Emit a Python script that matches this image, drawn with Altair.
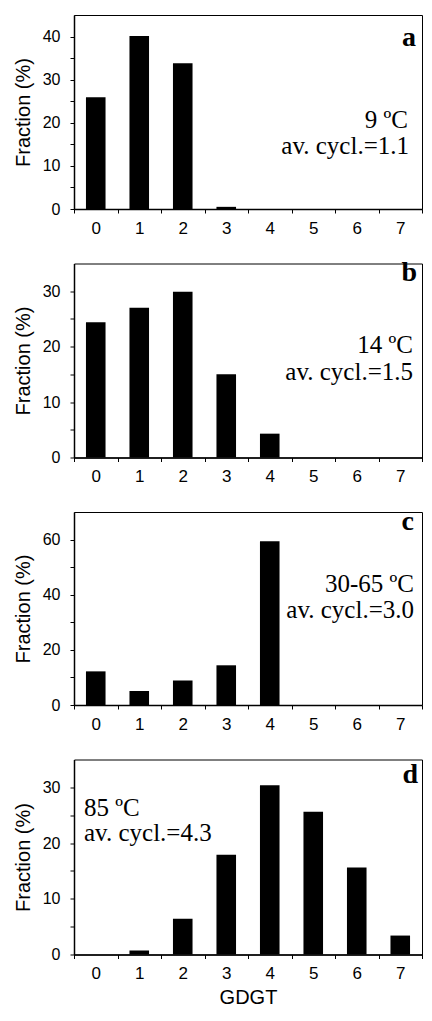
import altair as alt
import pandas as pd

# ---- data ----
gdgt = [0, 1, 2, 3, 4, 5, 6, 7]
frac_a = [25.9, 40.1, 33.8, 0.5, 0, 0, 0, 0]
frac_b = [24.4, 27.0, 29.9, 15.0, 4.3, 0, 0, 0]
frac_c = [12.2, 5.1, 8.9, 14.4, 59.4, 0, 0, 0]
frac_d = [0, 0.7, 6.4, 17.9, 30.4, 25.6, 15.6, 3.4]
series = [frac_a, frac_b, frac_c, frac_d]

panel_letters = ["a", "b", "c", "d"]
temp_labels = ["9 ºC", "14 ºC", "30-65 ºC", "85 ºC"]
cycl_labels = ["av. cycl.=1.1", "av. cycl.=1.5", "av. cycl.=3.0", "av. cycl.=4.3"]
y_max = [45, 35, 70, 35]
y_minor = [5, 5, 10, 5]
y_major = [10, 10, 20, 10]

# ---- layout (pixels, relative to each plot area) ----
PLOT_W = 348
heights = [194, 194, 193, 195]
letter_pos = [(342, 31), (343, 17), (340, 18), (344, 23)]
temp_pos = [(334, 113), (339, 89), (340, 80), (10, 56)]
cycl_pos = [(335, 139), (339, 116), (340, 106), (10, 81)]
text_align = ["right", "right", "right", "left"]

SERIF = "Liberation Serif"
SANS = "Liberation Sans"


def panel(i, last):
    df = pd.DataFrame({"GDGT": gdgt, "Fraction": series[i]})
    x = alt.X(
        "GDGT:O",
        scale=alt.Scale(paddingInner=0, paddingOuter=0),
        axis=alt.Axis(
            title="GDGT" if last else None,
            labelAngle=0,
            tickBand="extent",
            labelFontSize=17,
            labelPadding=7,
            titleFontSize=20,
            titlePadding=6,
        ),
    )
    y = alt.Y(
        "Fraction:Q",
        scale=alt.Scale(domain=[0, y_max[i]], nice=False, zero=True),
        axis=alt.Axis(
            title="Fraction (%)",
            values=list(range(0, y_max[i], y_minor[i])),
            labelExpr=f"datum.value % {y_major[i]} === 0 ? datum.label : ''",
            labelFontSize=16,
            labelPadding=10,
            titleFontSize=20,
            titlePadding=9,
        ),
    )
    bars = (
        alt.Chart(df)
        .mark_bar(color="black", width=alt.RelativeBandSize(0.45))
        .encode(x=x, y=y)
    )
    letter = (
        alt.Chart(pd.DataFrame({"t": [panel_letters[i]]}))
        .mark_text(font=SERIF, fontSize=28, fontWeight="bold", align="right",
                   baseline="alphabetic", color="black")
        .encode(text="t:N", x=alt.value(letter_pos[i][0]), y=alt.value(letter_pos[i][1]))
    )
    temp = (
        alt.Chart(pd.DataFrame({"t": [temp_labels[i]]}))
        .mark_text(font=SERIF, fontSize=25, align=text_align[i],
                   baseline="alphabetic", color="black")
        .encode(text="t:N", x=alt.value(temp_pos[i][0]), y=alt.value(temp_pos[i][1]))
    )
    cycl = (
        alt.Chart(pd.DataFrame({"t": [cycl_labels[i]]}))
        .mark_text(font=SERIF, fontSize=25, align=text_align[i],
                   baseline="alphabetic", color="black")
        .encode(text="t:N", x=alt.value(cycl_pos[i][0]), y=alt.value(cycl_pos[i][1]))
    )
    return alt.layer(bars, letter, temp, cycl).properties(width=PLOT_W, height=heights[i])


panels = [panel(i, i == 3) for i in range(4)]

chart = (
    alt.vconcat(*panels, spacing=54.5, bounds="flush")
    .properties(padding={"left": 4, "top": 6, "right": 0, "bottom": 0})
    .resolve_scale(y="independent")
    .configure(font=SANS)
    .configure_view(stroke="black", strokeWidth=1)
    .configure_axis(
        domainColor="black",
        domainWidth=1.5,
        tickColor="black",
        tickWidth=1,
        tickSize=4,
        labelColor="black",
        titleColor="black",
        labelFont=SANS,
        titleFont=SANS,
        titleFontWeight="normal",
        grid=False,
    )
)

chart.save("out.html", embed_options={"renderer": "svg", "actions": False})
